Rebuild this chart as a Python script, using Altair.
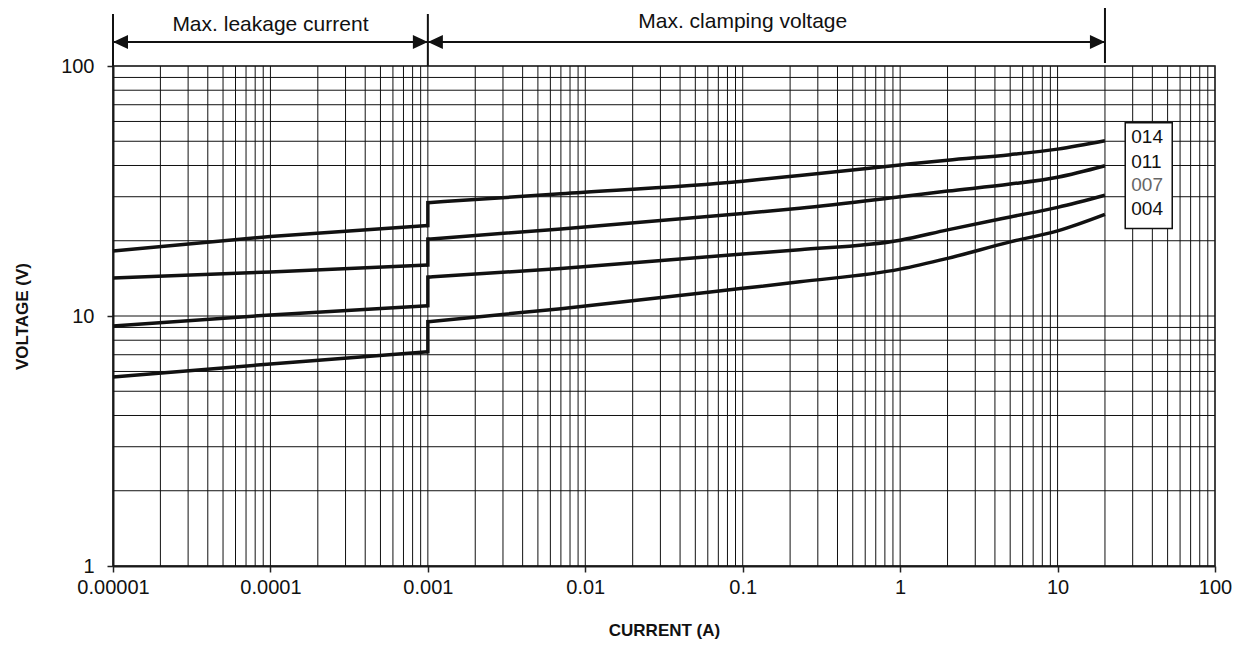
import altair as alt
import pandas as pd

# ---------------- data ----------------
series_names = ["014", "011", "007", "004"]

leak_current = [1e-5, 1e-4, 1e-3]
leak_014 = [18.2, 20.8, 23.0]
leak_011 = [14.2, 15.0, 16.0]
leak_007 = [9.12, 10.1, 11.0]
leak_004 = [5.70, 6.43, 7.2]

clamp_current = [1e-3, 0.007, 0.1, 0.23, 1, 2, 5, 10, 20]
clamp_014 = [28.4, 30.8, 34.6, 36.5, 40.2, 42.0, 44.2, 46.5, 50.2]
clamp_011 = [20.3, 22.3, 25.7, 27.0, 30.0, 31.6, 33.7, 35.9, 39.9]
clamp_007 = [14.3, 15.5, 17.7, 18.4, 20.1, 22.1, 24.9, 27.2, 30.4]
clamp_004 = [9.49, 10.7, 12.9, 13.7, 15.4, 17.0, 19.8, 21.9, 25.5]

x_tick_values = [1e-5, 1e-4, 1e-3, 1e-2, 1e-1, 1, 10, 100]
y_tick_values = [1, 10, 100]
x_grid_values = [k * 10.0 ** d for d in range(-5, 2) for k in range(1, 10)] + [100]
y_grid_values = [k * 10.0 ** d for d in range(0, 2) for k in range(1, 10)] + [100]

region_labels = ["Max. leakage current", "Max. clamping voltage"]
region_start = [1e-5, 1e-3]
region_end = [1e-3, 20]
region_label_x = [1e-4, 0.1]

# legend box layout (data space)
legend_box = {"x": 26.9, "x2": 53.5, "y": 22.4, "y2": 59.3}
legend_label_x = 29.4
legend_label_y = [52.0, 41.4, 33.4, 26.7]

# ---------------- frames ----------------
leaks = {"014": leak_014, "011": leak_011, "007": leak_007, "004": leak_004}
clamps = {"014": clamp_014, "011": clamp_011, "007": clamp_007, "004": clamp_004}
rows = []
jumps = []
for s in series_names:
    for c, v in zip(leak_current, leaks[s]):
        rows.append({"series": s, "seg": s + "L", "current": c, "voltage": v})
    for c, v in zip(clamp_current, clamps[s]):
        rows.append({"series": s, "seg": s + "C", "current": c, "voltage": v})
    jumps.append({"series": s, "current": 1e-3, "v1": leaks[s][-1], "v2": clamps[s][0]})
curves = pd.DataFrame(rows)
jumps = pd.DataFrame(jumps)
leak_df = curves[curves.seg.str.endswith("L")]
clamp_df = curves[curves.seg.str.endswith("C")]

FONT = "Liberation Sans"
xs = alt.Scale(type="log", domain=[1e-5, 100], nice=False)
ys = alt.Scale(type="log", domain=[1, 100], nice=False)

xaxis = alt.Axis(values=x_tick_values, format="~g", grid=False, tickSize=6, tickColor="#222",
                 tickWidth=1.5, labelFontSize=20, labelFont=FONT, labelColor="#111",
                 labelPadding=5, labelFlush=False, labelOverlap=False,
                 title="CURRENT (A)", titleFont=FONT, titleFontSize=17, titleFontWeight="bold",
                 titleColor="#111", titleBaseline="middle", titleY=64,
                 domainColor="#222", domainWidth=2)
yaxis = alt.Axis(values=y_tick_values, format="~g", grid=False, tickSize=6, tickColor="#222",
                 tickWidth=1.5, labelFontSize=20, labelFont=FONT, labelColor="#111",
                 labelPadding=13, labelOverlap=False,
                 title="VOLTAGE (V)", titleFont=FONT, titleFontSize=17, titleFontWeight="bold",
                 titleColor="#111", titleBaseline="middle", titleX=-91, titleY=250,
                 domainColor="#222", domainWidth=2)


def X(field):
    return alt.X(field, type="quantitative", scale=xs, axis=xaxis)


def Y(field):
    return alt.Y(field, type="quantitative", scale=ys, axis=yaxis)


xgrid = alt.Chart(pd.DataFrame({"g": x_grid_values})).mark_rule(
    color="#111", strokeWidth=1).encode(x=X("g"))
ygrid = alt.Chart(pd.DataFrame({"g": y_grid_values})).mark_rule(
    color="#111", strokeWidth=1).encode(y=Y("g"))

line_leak = alt.Chart(leak_df).mark_line(color="#111", strokeWidth=3.5, interpolate="linear").encode(
    x=X("current"), y=Y("voltage"), detail="seg:N", order="current:Q")
line_clamp = alt.Chart(clamp_df).mark_line(color="#111", strokeWidth=3.5, interpolate="monotone").encode(
    x=X("current"), y=Y("voltage"), detail="seg:N", order="current:Q")
jump_rules = alt.Chart(jumps).mark_rule(color="#111", strokeWidth=3.5, strokeCap="square").encode(
    x=X("current"), y=Y("v1"), y2="v2")

legend_rect = alt.Chart(pd.DataFrame([legend_box])).mark_rect(
    fill="white", stroke="#111", strokeWidth=1.5).encode(x=X("x"), x2="x2", y=Y("y"), y2="y2")
legend_text = alt.Chart(pd.DataFrame({"label": series_names, "lx": [legend_label_x] * 4,
                                      "ly": legend_label_y})).mark_text(
    align="left", baseline="middle", font=FONT, fontSize=19).encode(
    x=X("lx"), y=Y("ly"), text="label:N",
    color=alt.condition(alt.datum.label == "007", alt.value("#666"), alt.value("#111")))

reg = pd.DataFrame({"label": region_labels, "start": region_start, "end": region_end,
                    "lx": region_label_x})
arrow_lines = alt.Chart(reg).mark_rule(color="#111", strokeWidth=2).encode(
    x=X("start"), x2="end", y=alt.value(-24))
vlines = alt.Chart(pd.DataFrame({"v": region_start})).mark_rule(color="#111", strokeWidth=2).encode(
    x=X("v"), y=alt.value(-52), y2=alt.value(0))
vline_end = alt.Chart(pd.DataFrame({"v": [region_end[-1]]})).mark_rule(color="#111", strokeWidth=2).encode(
    x=X("v"), y=alt.value(-59), y2=alt.value(-3))
head_left = alt.Chart(pd.DataFrame({"v": region_start})).mark_point(
    shape="M0,0L2,-0.93L2,0.93Z", size=225, filled=True, color="#111", opacity=1, strokeWidth=0).encode(
    x=X("v"), y=alt.value(-24))
head_right = alt.Chart(pd.DataFrame({"v": region_end})).mark_point(
    shape="M0,0L-2,-0.93L-2,0.93Z", size=225, filled=True, color="#111", opacity=1, strokeWidth=0).encode(
    x=X("v"), y=alt.value(-24))
text_leak = alt.Chart(reg.iloc[[0]]).mark_text(
    align="center", baseline="alphabetic", font=FONT, fontSize=21, color="#111").encode(
    x=X("lx"), y=alt.value(-35), text="label:N")
text_clamp = alt.Chart(reg.iloc[[1]]).mark_text(
    align="center", baseline="alphabetic", font=FONT, fontSize=21, color="#111").encode(
    x=X("lx"), y=alt.value(-38), text="label:N")

chart = alt.layer(
    xgrid, ygrid, line_leak, line_clamp, jump_rules, legend_rect, legend_text,
    arrow_lines, vlines, vline_end, head_left, head_right, text_leak, text_clamp
).properties(
    width=1102, height=500,
    padding={"left": 105, "top": 58, "right": 20, "bottom": 73},
    autosize=alt.AutoSizeParams(type="none"),
    background="white",
).configure_view(stroke="#777", strokeWidth=2)

chart.save("out.html", embed_options={"renderer": "svg", "actions": False})
